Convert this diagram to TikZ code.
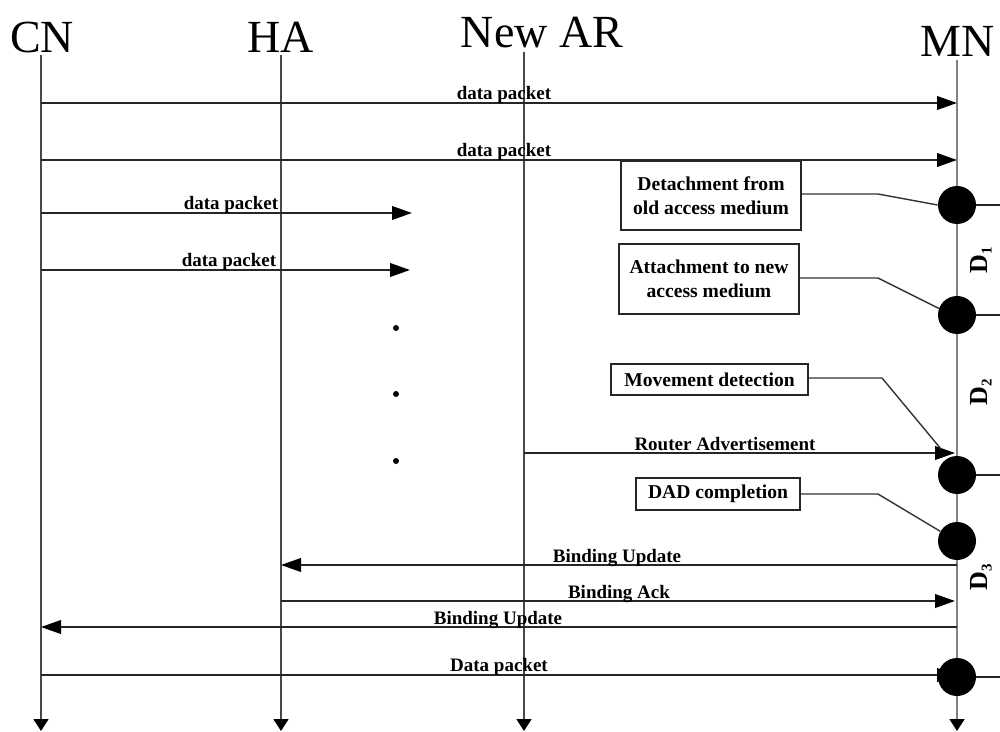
\documentclass[tikz,border=0pt]{standalone}
\usepackage{fontspec}
\setmainfont{Liberation Serif}
\usetikzlibrary{arrows.meta}
\newcommand{\dsub}[1]{\raisebox{-2.2pt}{\fontsize{7.5}{8}\selectfont #1}}
\begin{document}
\begin{tikzpicture}[x=0.5pt,y=-0.5pt,
  lifeline/.style={line width=0.85pt, draw=black!72, -{Triangle[length=6pt,width=7.5pt,color=black]}},
  msg/.style={line width=1pt, draw=black!85, -{Triangle[length=10pt,width=6.8pt,color=black]}},
  plainmsg/.style={line width=1pt, draw=black!85},
  lbl/.style={anchor=base, inner sep=0pt, font=\fontsize{9.5}{11}\selectfont\bfseries},
  head/.style={anchor=base, inner sep=0pt, font=\fontsize{23}{26}\selectfont},
  note/.style={draw=black!85, line width=0.8pt, fill=white, align=center, inner sep=1pt,
    font=\fontsize{9.8}{12}\selectfont\bfseries},
  event/.style={circle, fill=black, minimum size=19pt, inner sep=0pt},
  callout/.style={line width=0.7pt, draw=black!80},
  dlabel/.style={rotate=90, inner sep=0pt, font=\fontsize{13}{15}\selectfont\bfseries},
  gap/.style={circle, fill=black, minimum size=3pt, inner sep=0pt}
]
\useasboundingbox (0,0) rectangle (1000,732);

% entity names
\node[head] (hCN) at (42,53) {CN};
\node[head] (hHA) at (281,53) {HA};
\node[head] (hAR) at (542,48) {New AR};
\node[head] (hMN) at (958,57) {MN};

% lifeline ends
\coordinate (cnT) at (41,55);   \coordinate (cnB) at (41,731);
\coordinate (haT) at (281,55);  \coordinate (haB) at (281,731);
\coordinate (arT) at (524,52);  \coordinate (arB) at (524,731);
\coordinate (mnT) at (957,60);  \coordinate (mnB) at (957,731);
\coordinate (edge) at (1010,0);
\coordinate (kink) at (878,0);

% message rows
\coordinate (r1) at (0,103);
\coordinate (r2) at (0,160);
\coordinate (r3) at (0,213);
\coordinate (r4) at (0,270);
\coordinate (rRA) at (0,453);
\coordinate (rBU) at (0,565);
\coordinate (rBA) at (0,601);
\coordinate (rBC) at (0,627);
\coordinate (rDP) at (0,675);
\coordinate (lost3) at (412,213);
\coordinate (lost4) at (410,270);

% lifelines
\draw[lifeline] (cnT) -- (cnB);
\draw[lifeline] (haT) -- (haB);
\draw[lifeline] (arT) -- (arB);
\draw[lifeline, draw=black!50] (mnT) -- (mnB);

% messages
\draw[msg] (cnT |- r1) -- (mnT |- r1);
\node[lbl] (l1) at (504,100) {data packet};
\draw[msg] (cnT |- r2) -- (mnT |- r2);
\node[lbl] (l2) at (504,157) {data packet};
\draw[msg] (cnT |- r3) -- (lost3);
\node[lbl] (l3) at (231,210) {data packet};
\draw[msg] (cnT |- r4) -- (lost4);
\node[lbl] (l4) at (229,267) {data packet};

\node[gap] (g1) at (396,328) {};
\node[gap] (g2) at (396,394) {};
\node[gap] (g3) at (396,461) {};

\draw[msg] (arT |- rRA) -- ([xshift=-1pt]mnT |- rRA);
\node[lbl] (lRA) at (725,450) {Router Advertisement};
\draw[msg] (mnT |- rBU) -- (haT |- rBU);
\node[lbl] (lBU) at (617,562) {Binding Update};
\draw[msg] (haT |- rBA) -- ([xshift=-1pt]mnT |- rBA);
\node[lbl] (lBA) at (619,598) {Binding Ack};
\draw[msg] (mnT |- rBC) -- (cnT |- rBC);
\node[lbl] (lBC) at (498,624) {Binding Update};
\draw[msg] (cnT |- rDP) -- (mnT |- rDP);
\node[lbl] (lDP) at (499,671) {Data packet};

% events on the MN timeline
\node[event] (c1) at (957,205) {};
\node[event] (c2) at (957,315) {};
\node[event] (c3) at (957,475) {};
\node[event] (c4) at (957,541) {};
\node[event] (c5) at (957,677) {};
\foreach \c in {c1,c2,c3,c5}
  \draw[plainmsg] (\c.east) -- (\c.east -| edge);

% notes and their callouts
\node[note, minimum width=90pt, minimum height=34.5pt] (b1) at (711,195.5)
  {Detachment from\\old access medium};
\node[note, minimum width=90pt, minimum height=35pt] (b2) at (709,279)
  {Attachment to new\\access medium};
\node[note, minimum width=98.5pt, minimum height=15.5pt] (b3) at (709.5,379.5)
  {Movement detection};
\node[note, minimum width=82pt, minimum height=16pt] (b4) at (718,494)
  {DAD completion};
\coordinate (mdEnd) at (941,449);

\draw[callout] (b1.east |- 0,194) -- (kink |- 0,194) -- (c1.west);
\draw[callout] (b2.east |- 0,278) -- (kink |- 0,278) -- (c2.160);
\draw[callout] (b3.east |- 0,378) -- (882,378) -- (mdEnd);
\draw[callout] (b4.east |- 0,494) -- (kink |- 0,494) -- (c4.150);

% delay intervals
\node[dlabel] (d1) at (981,260) {D\dsub{1}};
\node[dlabel] (d2) at (981,392) {D\dsub{2}};
\node[dlabel] (d3) at (981,577) {D\dsub{3}};
\end{tikzpicture}
\end{document}
